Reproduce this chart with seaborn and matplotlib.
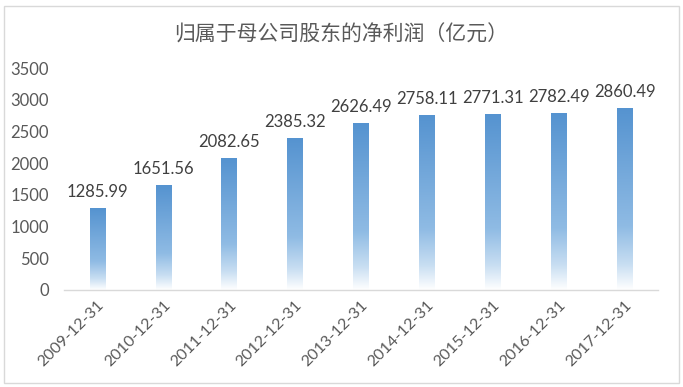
import numpy as np
import pandas as pd
import matplotlib
matplotlib.use("Agg")
import matplotlib.pyplot as plt
import seaborn as sns
from matplotlib.colors import LinearSegmentedColormap
from matplotlib.patches import Rectangle

dates = ["2009-12-31", "2010-12-31", "2011-12-31", "2012-12-31", "2013-12-31",
         "2014-12-31", "2015-12-31", "2016-12-31", "2017-12-31"]
profits = [1285.99, 1651.56, 2082.65, 2385.32, 2626.49, 2758.11, 2771.31, 2782.49, 2860.49]
yticks = [0, 500, 1000, 1500, 2000, 2500, 3000, 3500]
title = "归属于母公司股东的净利润（亿元）"

sns.set_theme(style="white")
plt.rcParams['font.family'] = ['Lato', 'Noto Sans CJK SC', 'DejaVu Sans']

df = pd.DataFrame({"date": dates, "profit": profits})

fig = plt.figure(figsize=(6.83, 3.87), dpi=100)
ax = fig.add_axes([0.094, 0.251, 0.869, 0.573])
sns.barplot(data=df, x="date", y="profit", ax=ax, width=0.23, color="#5B9BD5")

cmap = LinearSegmentedColormap.from_list(
    "g", [(0.0, "#ffffff"), (0.14, "#c8def2"), (0.35, "#8fbbe4"), (1.0, "#5593d0")])
grad = np.linspace(0, 1, 256).reshape(-1, 1)
for p in ax.patches:
    x, w, h = p.get_x(), p.get_width(), p.get_height()
    p.set_facecolor("none")
    p.set_edgecolor("none")
    ax.imshow(grad, extent=[x, x + w, 0, h], origin="lower", aspect="auto",
              cmap=cmap, vmin=0, vmax=1, zorder=2, interpolation="bicubic")
    ax.annotate(f"{h:.2f}", (x + w / 2, h), xytext=(0, 6), textcoords="offset points",
                ha="center", va="bottom", fontsize=12, color="#404040")

ax.set_xlim(-0.5, len(dates) - 0.5)
ax.set_ylim(0, 3500)
ax.set_yticks(yticks)
ax.set_yticklabels([str(t) for t in yticks], fontsize=12, color="#595959")
ax.set_xticks(range(len(dates)))
ax.set_xticklabels(dates, rotation=45, ha="right", rotation_mode="anchor",
                   fontsize=11.5, color="#595959")
ax.tick_params(axis="y", length=0, pad=11)
ax.tick_params(axis="x", length=0, pad=6)
ax.set_xlabel("")
ax.set_ylabel("")
for s in ["top", "right", "left"]:
    ax.spines[s].set_visible(False)
ax.spines["bottom"].set_color("#d9d9d9")
ax.spines["bottom"].set_linewidth(1)

fig.text(0.5, 0.91, title, ha="center", va="center", fontsize=15, color="#595959",
         family=["Noto Sans CJK SC", "DejaVu Sans"])

fig.patches.append(Rectangle((0.006, 0.01), 0.988, 0.975, transform=fig.transFigure,
                             fill=False, edgecolor="#d9d9d9", linewidth=1))

fig.savefig("out.png", dpi=100, facecolor="white")
